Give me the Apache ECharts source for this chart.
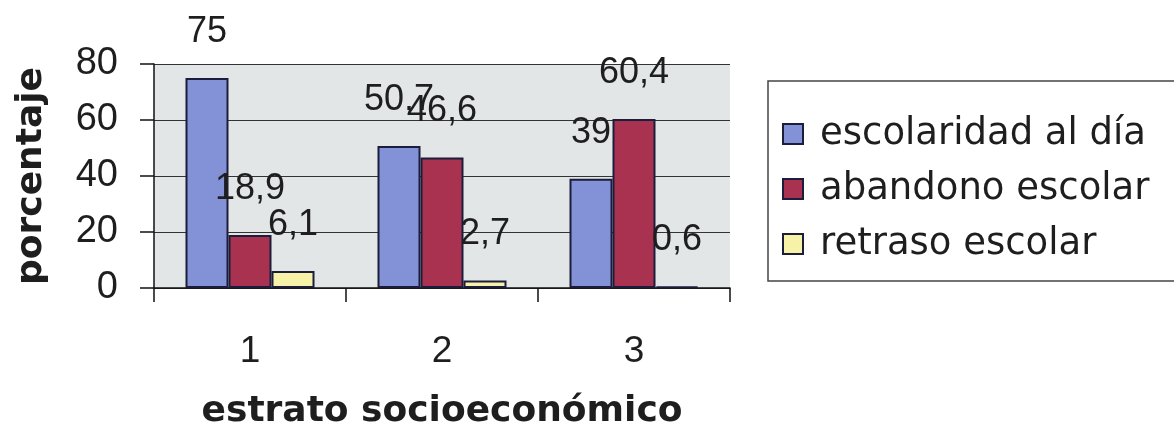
<!DOCTYPE html>
<html>
<head>
<meta charset="utf-8">
<script src="https://cdn.jsdelivr.net/npm/echarts@6/dist/echarts.min.js"></script>
<style>
html,body{margin:0;padding:0;background:#fff;}
#c{width:1174px;height:442px;}
</style>
</head>
<body>
<div id="c"></div>
<script>
const categories = ['1', '2', '3'];
const seriesNames = ['escolaridad al día', 'abandono escolar', 'retraso escolar'];
const escolaridad = [75, 50.7, 39];
const abandono = [18.9, 46.6, 60.4];
const retraso = [6.1, 2.7, 0.6];
const yTicks = [0, 20, 40, 60, 80];

const colors = ['#8392d6', '#a8324f', '#f6f2a8'];
const values = [escolaridad, abandono, retraso];

const chart = echarts.init(document.getElementById('c'));
const numFont = 'Liberation Sans, Arial, sans-serif';
const txtFont = 'DejaVu Sans, sans-serif';

chart.setOption({
  animation: false,
  backgroundColor: '#ffffff',
  grid: {
    left: 154, right: 444, top: 64, bottom: 154,
    show: true, backgroundColor: '#e2e6e6', borderWidth: 0
  },
  legend: {
    orient: 'vertical',
    left: 768, top: 81,
    padding: [33, 80, 17, 14],
    borderColor: '#444', borderWidth: 1.5,
    itemWidth: 20, itemHeight: 20, itemGap: 15,
    icon: 'rect',
    textStyle: { fontFamily: txtFont, fontSize: 37, color: '#1e1e1e', lineHeight: 40, padding: [0, 0, 0, 12] },
    data: seriesNames
  },
  xAxis: {
    type: 'category',
    data: categories,
    name: 'estrato socioeconómico',
    nameLocation: 'middle',
    nameGap: 106,
    nameTextStyle: { fontFamily: txtFont, fontSize: 36, fontWeight: 'bold', color: '#1e1e1e' },
    axisLine: { lineStyle: { color: '#111', width: 1.5 } },
    axisTick: { show: true, length: 14, lineStyle: { color: '#111', width: 1.5 } },
    axisLabel: { fontFamily: numFont, fontSize: 37, color: '#1e1e1e', margin: 45 }
  },
  yAxis: {
    type: 'value',
    min: 0, max: 80, interval: 20,
    name: 'porcentaje',
    nameLocation: 'middle',
    nameGap: 104,
    nameTextStyle: { fontFamily: txtFont, fontSize: 36, fontWeight: 'bold', color: '#1e1e1e' },
    axisLine: { show: true, lineStyle: { color: '#111', width: 1.5 } },
    axisTick: { show: true, length: 14, lineStyle: { color: '#111', width: 1.5 } },
    splitLine: { show: true, lineStyle: { color: '#333', width: 1.2 } },
    axisLabel: {
      fontFamily: numFont, fontSize: 38, color: '#1e1e1e', margin: 36,
      formatter: v => yTicks.includes(v) ? String(v) : ''
    }
  },
  series: seriesNames.map((n, i) => ({
    name: n,
    type: 'bar',
    data: values[i],
    barWidth: 43,
    barGap: '0%',
    itemStyle: { color: colors[i], borderColor: '#1c1c3c', borderWidth: 2 },
    label: {
      show: true, position: 'top', distance: 28,
      fontFamily: numFont, fontSize: 36, color: '#1e1e1e',
      formatter: p => String(p.value).replace('.', ',')
    }
  }))
});
</script>
</body>
</html>
